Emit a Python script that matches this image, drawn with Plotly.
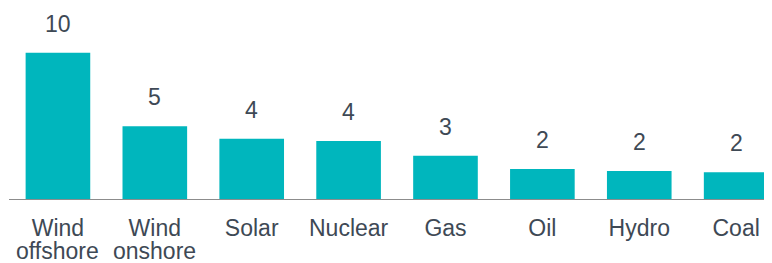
import plotly.graph_objects as go

categories = ["Wind offshore", "Wind onshore", "Solar", "Nuclear", "Gas", "Oil", "Hydro", "Coal"]
values = [10.0, 5.0, 4.15, 4.0, 3.0, 2.1, 1.97, 1.88]

BAR = "#00b6bd"
TXT = "#3e4955"
FONT = "Liberation Sans, Arial, sans-serif"
FS = 23

x = list(range(len(categories)))
first_lines = [c.split(" ", 1)[0] for c in categories]
second_lines = [c.split(" ", 1)[1] if " " in c else "" for c in categories]

fig = go.Figure(go.Bar(x=x, y=values, marker=dict(color=BAR, line=dict(width=0)), width=0.667,
                       hoverinfo="skip"))

for xi, v in zip(x, values):
    fig.add_annotation(x=xi, y=v, text=f"{v:.0f}", showarrow=False, yanchor="bottom",
                       yshift=14, font=dict(family=FONT, size=FS, color=TXT))

for xi, s in zip(x, second_lines):
    if s:
        fig.add_annotation(x=xi, xref="x", y=0, yref="y", text=s, showarrow=False,
                           yanchor="top", yshift=-36, font=dict(family=FONT, size=FS, color=TXT))

fig.update_layout(
    width=764, height=255,
    margin=dict(l=1, r=0, t=0, b=63, autoexpand=False),
    paper_bgcolor="white", plot_bgcolor="white",
    showlegend=False,
    xaxis=dict(range=[-0.505, 7.37], tickmode="array", tickvals=x, ticktext=first_lines,
               showgrid=False, zeroline=False, showline=False, ticks="", automargin=False,
               ticklabelstandoff=12,
               tickfont=dict(family=FONT, size=FS, color=TXT)),
    yaxis=dict(range=[0, 13.03], visible=False, automargin=False),
    shapes=[dict(type="line", xref="paper", yref="y", x0=0, x1=1, y0=0, y1=0,
                 line=dict(color="#8c8c8c", width=2))],
)

fig.write_html("out.html")
